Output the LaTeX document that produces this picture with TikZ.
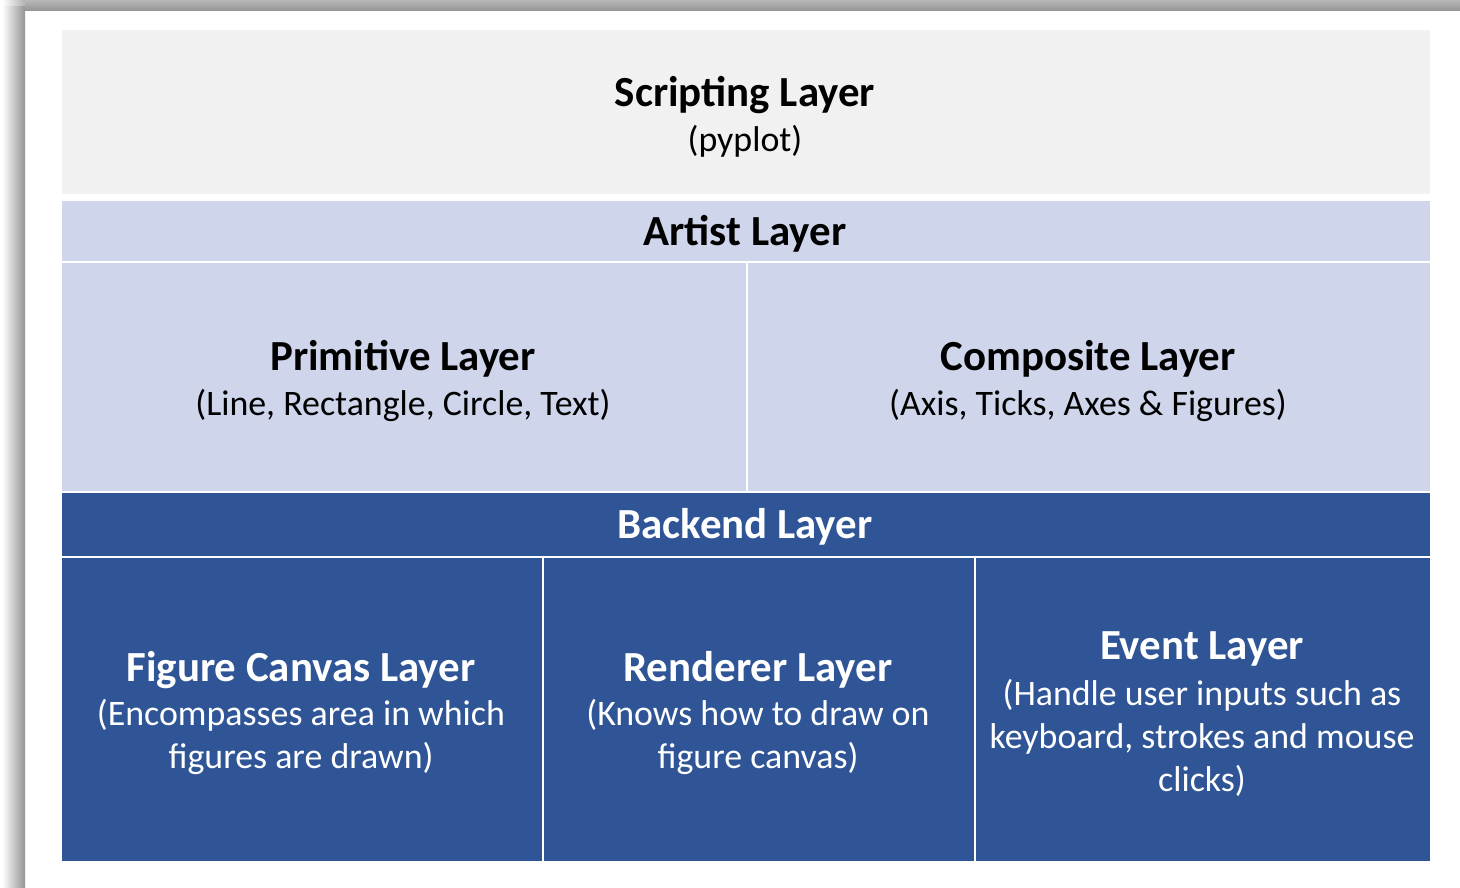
\documentclass[tikz,border=0pt]{standalone}
\usepackage{fontspec}
\setmainfont{Carlito}
\definecolor{scriptgray}{HTML}{F1F1F1}
\definecolor{artistblue}{HTML}{CFD5EA}
\definecolor{backendblue}{HTML}{2F5597}
\begin{document}
\begin{tikzpicture}[x=0.01cm,y=-0.01cm,
  cell/.style={draw=white,line width=0.6pt,inner sep=0pt,anchor=north west},
  title/.style={font=\fontsize{12.2}{14}\selectfont\bfseries,yshift=-0.03cm},
  body/.style={font=\fontsize{10.2}{12.3}\selectfont,align=center,yshift=-0.03cm}]
  \useasboundingbox (0,0) rectangle (1460,888);
  % shadow of the slide
  \fill[white] (0,0) rectangle (1460,888);
  \shade[left color=white,right color=black!42] (2,6) rectangle (25,888);
  \shade[top color=black!28,bottom color=black!42] (25,0) rectangle (1460,11);
  \shade[left color=white,right color=black!30] (2,0) rectangle (25,6);
  % scripting
  \node[cell,fill=scriptgray,minimum width=1370*0.01cm,minimum height=166*0.01cm] (script) at (60,28) {};
  \node[title] (scripttitle) at (745,92) {Scripting Layer};
  \node[body] (scriptsub) at (745,138) {(pyplot)};
  % artist
  \node[cell,fill=artistblue,minimum width=1370*0.01cm,minimum height=63*0.01cm] (artist) at (60,199) {};
  \node[title] (artisttitle) at (745,231) {Artist Layer};
  \node[cell,fill=artistblue,minimum width=686*0.01cm,minimum height=230*0.01cm] (prim) at (60,261) {};
  \node[cell,fill=artistblue,minimum width=684*0.01cm,minimum height=230*0.01cm] (comp) at (746,261) {};
  \node[title] (primtitle) at (403,356) {Primitive Layer};
  \node[body] (primsub) at (403,402) {(Line, Rectangle, Circle, Text)};
  \node[title] (comptitle) at (1088,356) {Composite Layer};
  \node[body] (compsub) at (1088,402) {(Axis, Ticks, Axes \& Figures)};
  % backend
  \node[cell,fill=backendblue,minimum width=1370*0.01cm,minimum height=65*0.01cm] (backend) at (60,491) {};
  \node[title,white] (backendtitle) at (745,524) {Backend Layer};
  \node[cell,fill=backendblue,minimum width=482*0.01cm,minimum height=305*0.01cm] (canvas) at (60,556) {};
  \node[cell,fill=backendblue,minimum width=432*0.01cm,minimum height=305*0.01cm] (render) at (542,556) {};
  \node[cell,fill=backendblue,minimum width=456*0.01cm,minimum height=305*0.01cm] (event) at (974,556) {};
  \node[title,white] (canvastitle) at (301,667) {Figure Canvas Layer};
  \node[body,white] (canvassub) at (301,734) {(Encompasses area in which\\figures are drawn)};
  \node[title,white] (rendertitle) at (758,667) {Renderer Layer};
  \node[body,white] (rendersub) at (758,734) {(Knows how to draw on\\figure canvas)};
  \node[title,white] (eventtitle) at (1202,646) {Event Layer};
  \node[body,white] (eventsub) at (1202,735) {(Handle user inputs such as\\keyboard, strokes and mouse\\clicks)};
\end{tikzpicture}
\end{document}
